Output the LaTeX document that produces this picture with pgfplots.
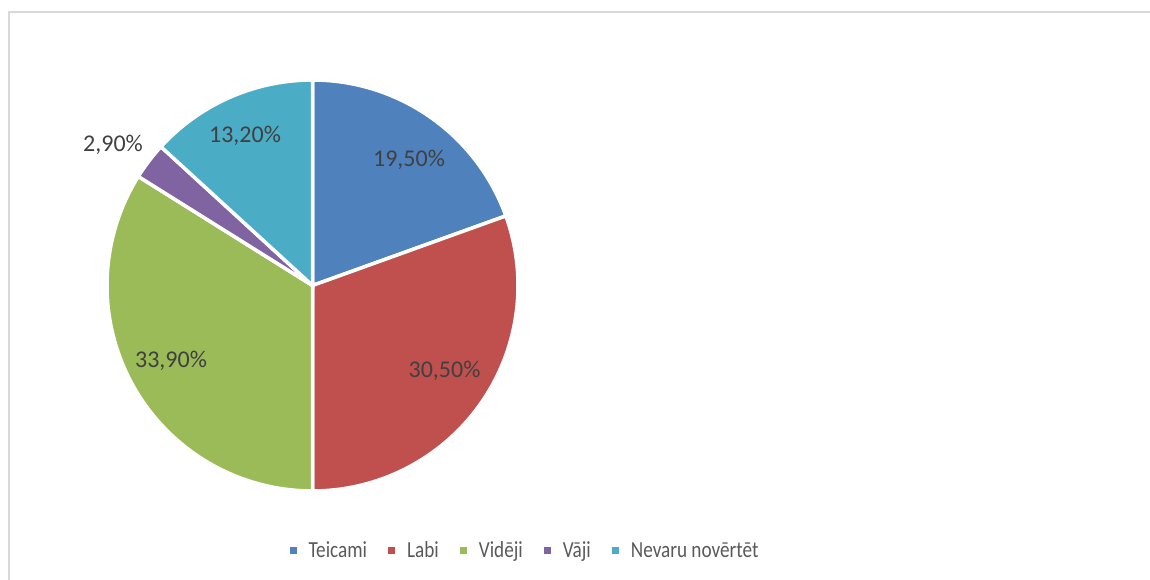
\documentclass[border=0pt]{standalone}
\usepackage{fontspec}
\setmainfont{Carlito}
\newfontfamily\legfont[FakeStretch=0.835]{Carlito}
\usepackage{pgfplots}
\pgfplotsset{compat=1.18}
\definecolor{cA}{HTML}{4F81BD}
\definecolor{cB}{HTML}{C0504D}
\definecolor{cC}{HTML}{9BBB59}
\definecolor{cD}{HTML}{8064A2}
\definecolor{cE}{HTML}{4BACC6}
\definecolor{lbl}{HTML}{404040}
\definecolor{legtxt}{HTML}{595959}
\definecolor{frame}{HTML}{D9D9D9}
% data (percent)
\def\vA{19.5}
\def\vB{30.5}
\def\vC{33.9}
\def\vD{2.9}
\def\vE{13.2}
\pgfmathsetmacro\aA{90}
\pgfmathsetmacro\aB{\aA-3.6*\vA}
\pgfmathsetmacro\aC{\aB-3.6*\vB}
\pgfmathsetmacro\aD{\aC-3.6*\vC}
\pgfmathsetmacro\aE{\aD-3.6*\vD}
\pgfmathsetmacro\aF{\aE-3.6*\vE}
\def\cx{312.5}
\def\cy{294.5}
\def\rr{205.5}
\begin{document}
\begin{tikzpicture}[x=1pt,y=1pt]
\useasboundingbox (0,0) rectangle (1150,580);
\begin{axis}[
  at={(0,0)}, anchor=south west,
  scale only axis, width=1150pt, height=580pt,
  xmin=0, xmax=1150, ymin=0, ymax=580,
  hide axis, clip=false,
  legend columns=-1,
  legend image code/.code={\fill[#1, draw=none] (0pt,-3.5pt) rectangle (7pt,3.5pt);},
  legend style={at={(axis cs:524,29.5)}, anchor=center, draw=none, fill=none,
    font=\fontsize{23}{27}\selectfont\legfont\color{legtxt},
    nodes={inner xsep=0pt, inner ysep=1pt},
    /tikz/every odd column/.append style={column sep=12pt},
    /tikz/every even column/.append style={column sep=21pt}},
]
\draw[frame, line width=1.5pt] (axis cs:9,0) -- (axis cs:9,568) -- (axis cs:1150,568);
\addplot[fill=cA, draw=white, line width=3.5pt, domain=\aB:\aA, samples=60, variable=\t]
  ({\cx+\rr*cos(t)},{\cy+\rr*sin(t)}) -- (axis cs:\cx,\cy) -- cycle;
\addlegendentry{Teicami}
\addplot[fill=cB, draw=white, line width=3.5pt, domain=\aC:\aB, samples=80, variable=\t]
  ({\cx+\rr*cos(t)},{\cy+\rr*sin(t)}) -- (axis cs:\cx,\cy) -- cycle;
\addlegendentry{Labi}
\addplot[fill=cC, draw=white, line width=3.5pt, domain=\aD:\aC, samples=80, variable=\t]
  ({\cx+\rr*cos(t)},{\cy+\rr*sin(t)}) -- (axis cs:\cx,\cy) -- cycle;
\addlegendentry{Vidēji}
\addplot[fill=cD, draw=white, line width=3.5pt, domain=\aE:\aD, samples=10, variable=\t]
  ({\cx+\rr*cos(t)},{\cy+\rr*sin(t)}) -- (axis cs:\cx,\cy) -- cycle;
\addlegendentry{Vāji}
\addplot[fill=cE, draw=white, line width=3.5pt, domain=\aF:\aE, samples=40, variable=\t]
  ({\cx+\rr*cos(t)},{\cy+\rr*sin(t)}) -- (axis cs:\cx,\cy) -- cycle;
\addlegendentry{Nevaru novērtēt}
\begin{scope}[every node/.style={inner sep=0pt, anchor=base, text=lbl, font=\fontsize{24}{28}\selectfont}]
\node at (axis cs:409,413) {19,50\%};
\node at (axis cs:444.5,202) {30,50\%};
\node at (axis cs:171,212) {33,90\%};
\node at (axis cs:113,428) {2,90\%};
\node at (axis cs:245,437) {13,20\%};
\end{scope}
\end{axis}
\end{tikzpicture}
\end{document}
